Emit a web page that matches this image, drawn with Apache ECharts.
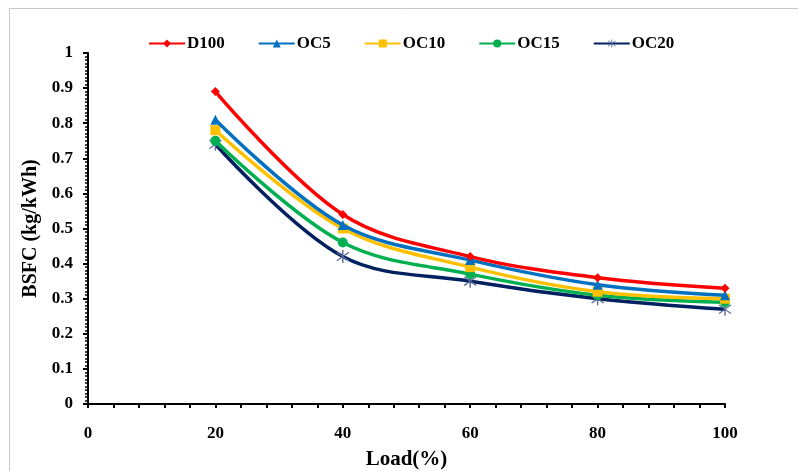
<!DOCTYPE html>
<html>
<head>
<meta charset="utf-8">
<script src="https://cdn.jsdelivr.net/npm/echarts@6/dist/echarts.min.js"></script>
<style>html,body{margin:0;padding:0;background:#fff}#c{width:798px;height:471px}</style>
</head>
<body>
<div id="c"></div>
<script>
var loads = [20, 40, 60, 80, 100];
var seriesNames = ['D100', 'OC5', 'OC10', 'OC15', 'OC20'];
var d100 = [0.89, 0.54, 0.42, 0.36, 0.33];
var oc5  = [0.81, 0.51, 0.41, 0.34, 0.31];
var oc10 = [0.78, 0.50, 0.39, 0.32, 0.30];
var oc15 = [0.75, 0.46, 0.37, 0.31, 0.29];
var oc20 = [0.74, 0.42, 0.35, 0.30, 0.27];

var colors = ['#FF0000', '#0070C0', '#FFC000', '#00B050', '#002060'];
var asterisk = 'path://M-0.6,-6L0.6,-6L0.6,6L-0.6,6Z M-5.6,-3.6L-4.8,-4.4L5.6,3.6L4.8,4.4Z M-5.6,3.6L-4.8,4.4L5.6,-3.6L4.8,-4.4Z';
var symbols = ['diamond', 'triangle', 'rect', 'circle', asterisk];
var sizes = [9, 10, 10, 10, 13];
var allData = [d100, oc5, oc10, oc15, oc20];

var font = '"Liberation Serif", "Times New Roman", serif';
var chart = echarts.init(document.getElementById('c'));
var series = seriesNames.map(function (n, i) {
  return {
    name: n,
    type: 'line',
    smooth: 0.35,
    data: loads.map(function (x, j) { return [x, allData[i][j]]; }),
    symbol: symbols[i],
    symbolSize: sizes[i],
    lineStyle: { color: colors[i], width: 3.5 },
    itemStyle: { color: i === 4 ? '#5a6a9a' : colors[i] },
    z: 10 - i
  };
});

chart.setOption({
  animation: false,
  backgroundColor: '#fff',
  graphic: [
    { type: 'line', shape: { x1: 9.5, y1: 8.5, x2: 798, y2: 8.5 }, style: { stroke: '#c8c8c8', lineWidth: 1 } },
    { type: 'line', shape: { x1: 9.5, y1: 8.5, x2: 9.5, y2: 471 }, style: { stroke: '#c8c8c8', lineWidth: 1 } }
  ],
  legend: {
    top: 30,
    left: 143,
    itemWidth: 36,
    itemHeight: 10,
    itemGap: 33,
    textStyle: { fontFamily: font, fontWeight: 'bold', fontSize: 17, color: '#000', padding: [0, 0, 0, -3] },
    data: seriesNames
  },
  grid: { left: 88, right: 73, top: 53, bottom: 67, containLabel: false, outerBoundsMode: 'none' },
  xAxis: {
    type: 'value',
    min: 0, max: 100, interval: 20,
    name: 'Load(%)',
    nameLocation: 'middle',
    nameGap: 45,
    nameTextStyle: { fontFamily: font, fontWeight: 'bold', fontSize: 21, color: '#000' },
    axisLine: { show: true, lineStyle: { color: '#000', width: 2 } },
    axisTick: { show: true, inside: false, length: 4, lineStyle: { color: '#000', width: 2 } },
    minorTick: { show: true, splitNumber: 5, length: 4, lineStyle: { color: '#000', width: 2 } },
    axisLabel: { fontFamily: font, fontWeight: 'bold', fontSize: 17, color: '#000', margin: 21 },
    splitLine: { show: false }
  },
  yAxis: {
    type: 'value',
    min: 0, max: 1, interval: 0.1,
    name: 'BSFC (kg/kWh)',
    nameLocation: 'middle',
    nameGap: 47,
    nameTextStyle: { fontFamily: font, fontWeight: 'bold', fontSize: 20, color: '#000' },
    axisLine: { show: true, lineStyle: { color: '#000', width: 2 } },
    axisTick: { show: true, inside: false, length: 5, lineStyle: { color: '#000', width: 2 } },
    minorTick: { show: true, splitNumber: 10, length: 3, lineStyle: { color: '#000', width: 1.5 } },
    axisLabel: { fontFamily: font, fontWeight: 'bold', fontSize: 17, color: '#000', margin: 15,
      formatter: function (v) { return String(Math.round(v * 10) / 10); } },
    splitLine: { show: false }
  },
  series: series
});
</script>
</body>
</html>
